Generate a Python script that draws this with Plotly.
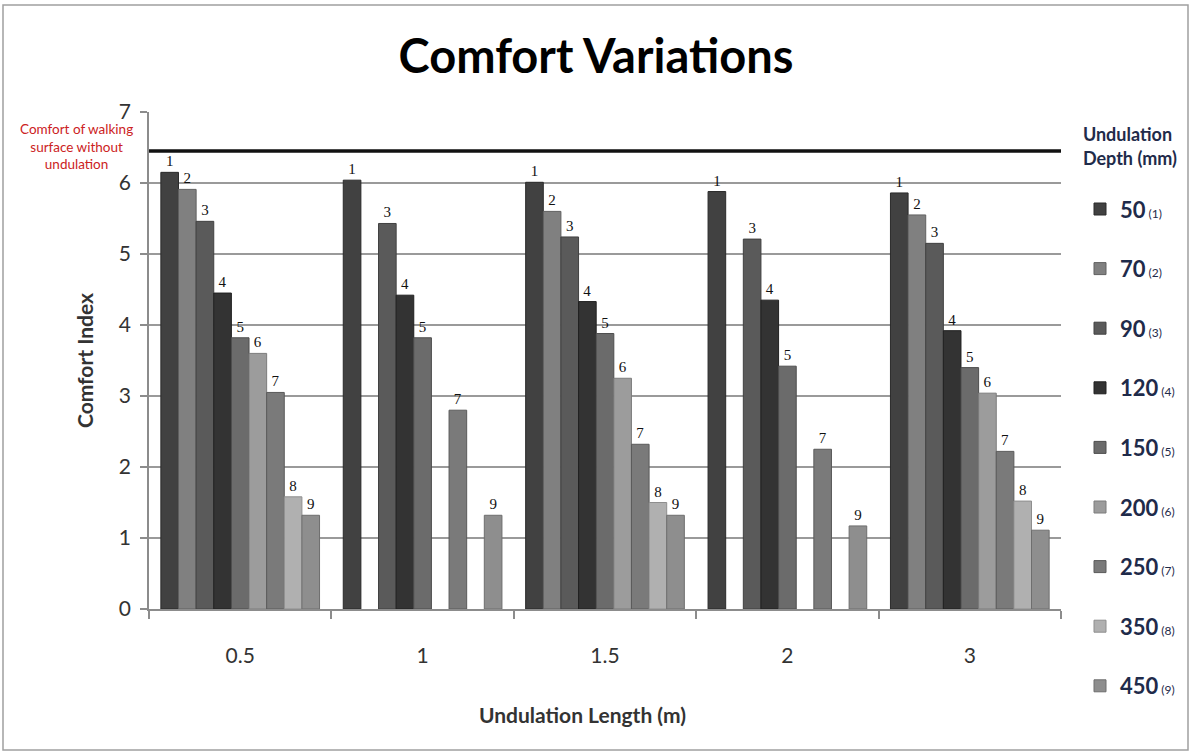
import plotly.graph_objects as go

# ---- data ----
LENGTHS = ["0.5", "1", "1.5", "2", "3"]          # undulation length (m)
DEPTHS = [50, 70, 90, 120, 150, 200, 250, 350, 450]  # undulation depth (mm)

D50 = [6.15, 6.04, 6.01, 5.88, 5.86]
D70 = [5.91, None, 5.60, None, 5.55]
D90 = [5.46, 5.43, 5.24, 5.21, 5.15]
D120 = [4.45, 4.42, 4.33, 4.35, 3.92]
D150 = [3.82, 3.82, 3.88, 3.42, 3.40]
D200 = [3.60, None, 3.25, None, 3.04]
D250 = [3.05, 2.80, 2.32, 2.25, 2.22]
D350 = [1.58, None, 1.50, None, 1.52]
D450 = [1.32, 1.32, 1.32, 1.17, 1.11]
SERIES = [D50, D70, D90, D120, D150, D200, D250, D350, D450]

REFERENCE_COMFORT = 6.45  # comfort of walking surface without undulation

Y_TICKS = [0, 1, 2, 3, 4, 5, 6, 7]

# ---- styles ----
COLORS = ["#414141", "#808080", "#5a5a5a", "#333333", "#6b6b6b",
          "#9c9c9c", "#7a7a7a", "#b0b0b0", "#8e8e8e"]
EDGES = ["#2a2a2a", "#606060", "#404040", "#202020", "#4e4e4e",
         "#7c7c7c", "#5a5a5a", "#8e8e8e", "#6e6e6e"]
LEGEND_COLOR = "#1f2b4a"

fig = go.Figure()
for i, (depth, vals) in enumerate(zip(DEPTHS, SERIES)):
    idx = i + 1
    fig.add_trace(go.Bar(
        x=LENGTHS,
        y=vals,
        name=f"<b>{depth}</b><span style='font-size:12px'> ({idx})</span>",
        text=[str(idx) if v is not None else "" for v in vals],
        textposition="outside",
        textfont=dict(family="Liberation Serif", size=15, color="#111111"),
        constraintext="none",
        cliponaxis=False,
        marker=dict(color=COLORS[i], line=dict(color=EDGES[i], width=1)),
        legendgroup=str(idx),
        hoverinfo="x+y+name",
    ))

W, H = 1192, 754
ML, MR, MT, MB = 149, 131, 112, 145
PW, PH = W - ML - MR, H - MT - MB

def px_x(p):
    return (p - ML) / PW

def px_y(p):
    return (H - MB - p) / PH

fig.update_layout(
    width=W, height=H,
    margin=dict(l=ML, r=MR, t=MT, b=MB, autoexpand=False),
    paper_bgcolor="white",
    plot_bgcolor="white",
    barmode="group",
    bargap=0.13,
    bargroupgap=0,
    font=dict(family="Lato", color="#333333"),
    title=dict(
        text="<b>Comfort Variations</b>",
        x=0.5, xref="container", xanchor="center",
        y=1 - 57 / H, yref="container", yanchor="middle",
        font=dict(family="Lato", size=47, color="#000000"),
    ),
    xaxis=dict(
        type="category",
        showline=True, linecolor="#8c8c8c", linewidth=1.5,
        ticks="outside", tickson="boundaries", ticklen=8,
        tickcolor="#8c8c8c", tickwidth=1.5,
        ticklabelstandoff=27,
        tickfont=dict(family="Lato", size=21, color="#333333"),
        showgrid=False,
    ),
    yaxis=dict(
        range=[0, 7],
        tickvals=Y_TICKS,
        showline=True, linecolor="#8c8c8c", linewidth=1.5,
        ticks="outside", ticklen=7, tickcolor="#8c8c8c", tickwidth=1.5,
        ticklabelstandoff=5,
        showgrid=True, gridcolor="#9a9a9a", gridwidth=1.5,
        zeroline=False,
        tickfont=dict(family="Lato", size=21, color="#333333"),
        title=dict(text="<b>Comfort Index</b>", standoff=20,
                   font=dict(family="Lato", size=21, color="#333333")),
    ),
    legend=dict(
        x=px_x(1080), xanchor="left",
        y=px_y(118), yanchor="top",
        maxheight=740,
        title=dict(text="<b>Undulation<br>Depth (mm)</b><br> ", side="top center",
                   font=dict(family="Lato", size=18, color=LEGEND_COLOR)),
        font=dict(family="Lato", size=22, color=LEGEND_COLOR),
        tracegroupgap=28,
        itemwidth=30,
        bgcolor="rgba(0,0,0,0)",
    ),
    showlegend=True,
)

# x-axis title (placed as in the reference, slightly left of centre)
fig.add_annotation(
    text="<b>Undulation Length (m)</b>",
    xref="paper", yref="paper", x=px_x(582), y=px_y(714),
    xanchor="center", yanchor="middle", showarrow=False,
    font=dict(family="Lato", size=21, color="#333333"),
)

# reference line: comfort of walking surface without undulation
fig.add_shape(type="line", xref="paper", yref="y",
              x0=0, x1=1, y0=REFERENCE_COMFORT, y1=REFERENCE_COMFORT,
              line=dict(color="#111111", width=3.5), layer="above")

fig.add_annotation(
    text="Comfort of walking<br>surface without<br>undulation",
    xref="paper", yref="paper", x=px_x(76), y=px_y(146),
    xanchor="center", yanchor="middle", showarrow=False, align="center",
    font=dict(family="Lato", size=13.5, color="#cc2222"),
)

# outer chart frame
fig.add_shape(type="rect", xref="paper", yref="paper",
              x0=px_x(3), x1=px_x(1188), y0=px_y(750), y1=px_y(5),
              line=dict(color="#a0a0a0", width=1.5), layer="below")

fig.write_html("out.html",
               config={"displayModeBar": False},
               post_script="document.body.style.margin='0';document.body.style.overflow='hidden';")
